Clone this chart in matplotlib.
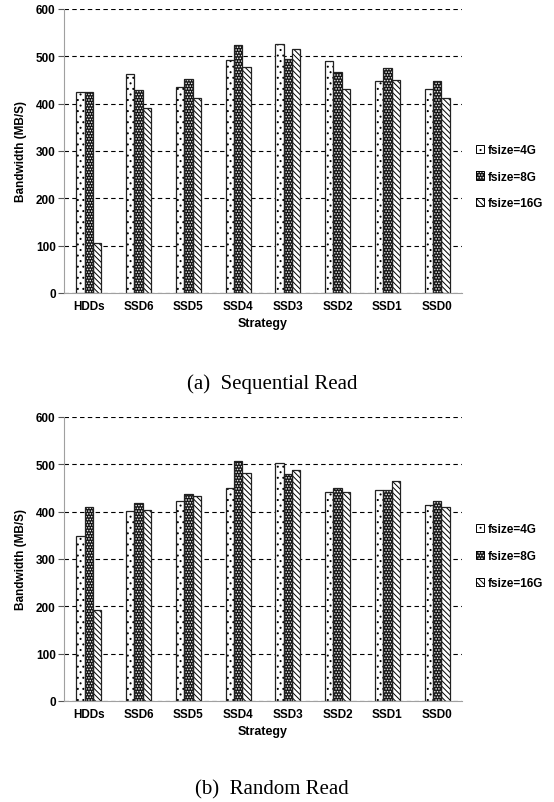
import matplotlib
matplotlib.use('Agg')
import matplotlib.pyplot as plt
from matplotlib.patches import Patch
import numpy as np

strategies = ['HDDs', 'SSD6', 'SSD5', 'SSD4', 'SSD3', 'SSD2', 'SSD1', 'SSD0']
series = ['fsize=4G', 'fsize=8G', 'fsize=16G']

seq_4g = [424, 462, 436, 492, 527, 490, 447, 431]
seq_8g = [424, 429, 452, 523, 494, 466, 475, 447]
seq_16g = [105, 391, 413, 477, 516, 431, 450, 412]

rnd_4g = [348, 401, 423, 449, 502, 442, 445, 414]
rnd_8g = [409, 418, 438, 508, 479, 449, 445, 423]
rnd_16g = [192, 404, 434, 481, 489, 442, 465, 410]

captions = ['(a)  Sequential Read', '(b)  Random Read']

plt.rcParams['font.family'] = ['Liberation Sans', 'DejaVu Sans']
plt.rcParams['hatch.linewidth'] = 0.7

fig = plt.figure(figsize=(5.54, 8.03), dpi=100)
W, H = 554, 803

# (face, hatch colour, hatch) per series
STYLES = [('white', 'black', '...'),
          ('#151515', 'white', '......'),
          ('white', 'black', '\\\\\\\\\\\\')]


def draw_panel(ax, values):
    x = np.arange(len(strategies))
    w = 0.167
    offsets = [-w, 0, w]
    for vals, off, (face, hcol, hatch) in zip(values, offsets, STYLES):
        ax.bar(x + off, vals, w, color=face, edgecolor=hcol,
               hatch=hatch, linewidth=0, zorder=3)
        ax.bar(x + off, vals, w, fill=False, edgecolor='#222222',
               linewidth=0.9, zorder=4)
    ax.set_xlim(-0.5, len(strategies) - 0.5)
    ax.set_ylim(0, 600)
    ax.set_yticks(range(0, 601, 100))
    ax.set_xticks(x)
    ax.set_xticklabels(strategies, fontsize=8.5, fontweight='bold')
    for lab in ax.get_yticklabels():
        lab.set_fontsize(8.5)
        lab.set_fontweight('bold')
    ax.yaxis.grid(True, linestyle=(0, (4, 3)), color='black', linewidth=0.8, zorder=0)
    ax.set_axisbelow(True)
    for s in ['top', 'right']:
        ax.spines[s].set_visible(False)
    for s in ['left', 'bottom']:
        ax.spines[s].set_color('#a0a0a0')
        ax.spines[s].set_zorder(5)
    ax.tick_params(axis='x', length=0, pad=5)
    ax.tick_params(axis='y', length=4, width=0.8, color='#555555', pad=2)
    ax.set_ylabel('Bandwidth (MB/S)', fontsize=8.5, fontweight='bold', labelpad=6)
    ax.set_xlabel('Strategy', fontsize=9, fontweight='bold', labelpad=4)


panels = [
    (10, 294, [seq_4g, seq_8g, seq_16g], 384, 0.41),
    (418, 702, [rnd_4g, rnd_8g, rnd_16g], 790, 0.51),
]
for (top, bot, vals, cap_y, leg_y), cap in zip(panels, captions):
    ax = fig.add_axes([64 / W, 1 - bot / H, (462 - 64) / W, (bot - top) / H])
    draw_panel(ax, vals)
    proxies = [Patch(facecolor=f, edgecolor=c, hatch=h, linewidth=0)
               for f, c, h in STYLES]
    outlines = [Patch(fill=False, edgecolor='black', linewidth=0.7) for _ in STYLES]
    leg = ax.legend([(p, o) for p, o in zip(proxies, outlines)], series,
                    loc='center left', bbox_to_anchor=(1.0, leg_y),
                    frameon=False, fontsize=8.5, handlelength=0.7, handleheight=0.7,
                    handletextpad=0.3, labelspacing=1.25, borderaxespad=0.8)
    for t in leg.get_texts():
        t.set_fontweight('bold')
    fig.text(272 / W, 1 - cap_y / H, cap, ha='center', va='center',
             fontsize=15, family=['Liberation Serif', 'DejaVu Serif'])

fig.savefig('out.png', dpi=100)
